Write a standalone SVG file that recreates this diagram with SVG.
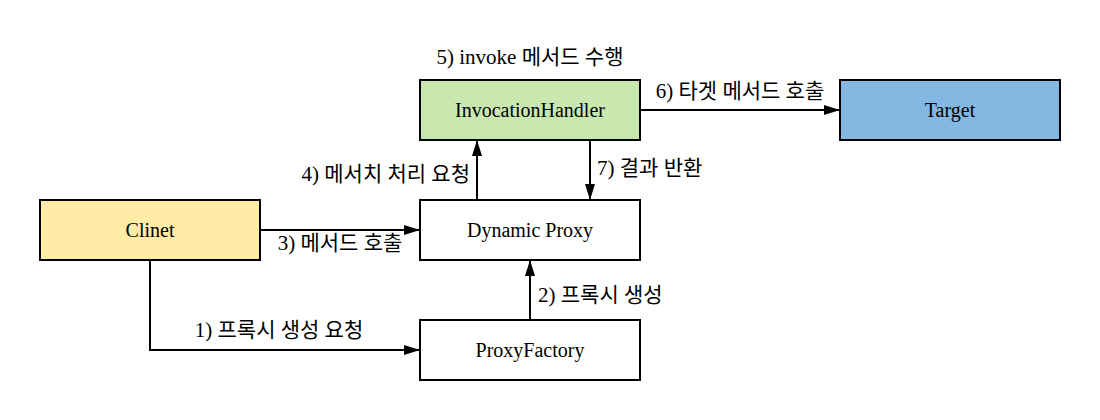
<svg xmlns="http://www.w3.org/2000/svg" width="1100" height="420" viewBox="0 0 1100 420">
<style>
.box{stroke:#000;stroke-width:2}
.nl{font-family:"Liberation Serif","Noto Sans CJK KR",serif;font-size:20px;text-anchor:middle;dominant-baseline:central}
.el{font-family:"Liberation Serif","Noto Sans CJK KR",serif;font-size:21px}
.c{fill:none;stroke:#000;stroke-width:2}
</style>
<defs>
<marker id="ah" viewBox="0 0 16 10" refX="16" refY="5" markerWidth="16" markerHeight="10" markerUnits="userSpaceOnUse" orient="auto">
<path d="M0,0 L16,5 L0,10 Z" fill="#000"/>
</marker>
</defs>
<rect width="1100" height="420" fill="#fff"/>
<g id="connectors">
<path class="c" d="M640,110 L840,110" marker-end="url(#ah)"/>
<path class="c" d="M477,200 L477,140" marker-end="url(#ah)"/>
<path class="c" d="M590,140 L590,200" marker-end="url(#ah)"/>
<path class="c" d="M260,230 L420,230" marker-end="url(#ah)"/>
<path class="c" d="M530,320 L530,260" marker-end="url(#ah)"/>
<path class="c" d="M150,260 L150,350 L420,350" marker-end="url(#ah)"/>
<text class="el" x="530" y="64" text-anchor="middle">5) invoke 메서드 수행</text>
<text class="el" x="740" y="98" text-anchor="middle">6) 타겟 메서드 호출</text>
<text class="el" x="470" y="181" text-anchor="end">4) 메서치 처리 요청</text>
<text class="el" x="597" y="175" text-anchor="start">7) 결과 반환</text>
<text class="el" x="340" y="250" text-anchor="middle">3) 메서드 호출</text>
<text class="el" x="538" y="302" text-anchor="start">2) 프록시 생성</text>
<text class="el" x="279" y="337" text-anchor="middle">1) 프록시 생성 요청</text>
</g>
<g id="invocationHandler">
<rect class="box" x="420" y="80" width="220" height="60" fill="#c8e8b0"/>
<text class="nl" x="530" y="110">InvocationHandler</text>
</g>
<g id="target">
<rect class="box" x="840" y="80" width="220" height="60" fill="#84b8e2"/>
<text class="nl" x="950" y="110">Target</text>
</g>
<g id="clinet">
<rect class="box" x="40" y="200" width="220" height="60" fill="#ffeca6"/>
<text class="nl" x="150" y="230">Clinet</text>
</g>
<g id="dynamicProxy">
<rect class="box" x="420" y="200" width="220" height="60" fill="#fff"/>
<text class="nl" x="530" y="230">Dynamic Proxy</text>
</g>
<g id="proxyFactory">
<rect class="box" x="420" y="320" width="220" height="60" fill="#fff"/>
<text class="nl" x="530" y="350">ProxyFactory</text>
</g>
</svg>
